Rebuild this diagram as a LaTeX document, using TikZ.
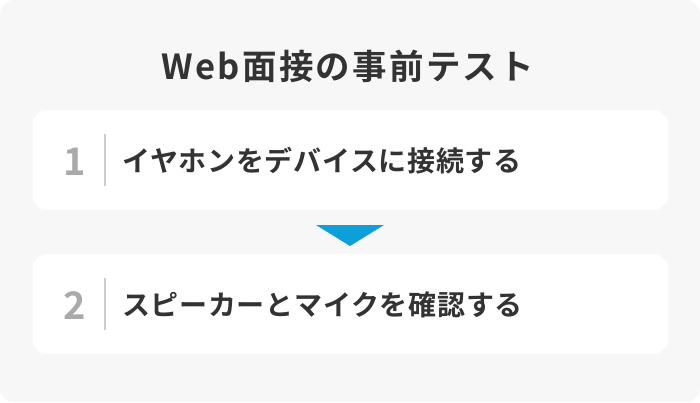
\documentclass[tikz,border=0pt]{standalone}
\usepackage{fontspec}
\setmainfont{Noto Sans CJK JP}[BoldFont={* Bold}]
\definecolor{bgc}{HTML}{F7F7F7}
\definecolor{txt}{HTML}{333333}
\definecolor{numc}{HTML}{AAAAAA}
\definecolor{sepc}{HTML}{CCCCCC}
\definecolor{tri}{HTML}{0E9FD6}
\begin{document}
\begin{tikzpicture}[x=1pt,y=-1pt,
  stepbox/.style={fill=white,rounded corners=14pt,draw=none},
  steptext/.style={anchor=west,text=txt,font=\fontsize{28}{32}\selectfont\bfseries\addfontfeatures{LetterSpace=2.5},inner sep=0pt},
  stepnum/.style={text=numc,font=\fontsize{38}{40}\selectfont\bfseries,inner sep=0pt},
  sepline/.style={draw=sepc,line width=1.5pt}]
\useasboundingbox (0,0) rectangle (700,402);
\fill[bgc,rounded corners=14pt] (0,0) rectangle (700,402);
\node[text=txt,font=\fontsize{34.5}{38}\selectfont\bfseries\addfontfeatures{LetterSpace=6.5},inner sep=0pt] (title) at (348,66) {Web面接の事前テスト};
\fill[stepbox] (33,110) rectangle (668,210);
\node[stepnum] (n1) at (75,162) {1};
\coordinate (s1a) at (105,134);
\coordinate (s1b) at (105,186);
\draw[sepline] (s1a) -- (s1b);
\node[steptext] (t1) at (122,161) {イヤホンをデバイスに接続する};
\fill[tri] (316,225) -- (384,225) -- (350,246) -- cycle;
\fill[stepbox] (33,254) rectangle (668,354);
\node[stepnum] (n2) at (75,306) {2};
\coordinate (s2a) at (105,278);
\coordinate (s2b) at (105,330);
\draw[sepline] (s2a) -- (s2b);
\node[steptext] (t2) at (122,305) {スピーカーとマイクを確認する};
\end{tikzpicture}
\end{document}
